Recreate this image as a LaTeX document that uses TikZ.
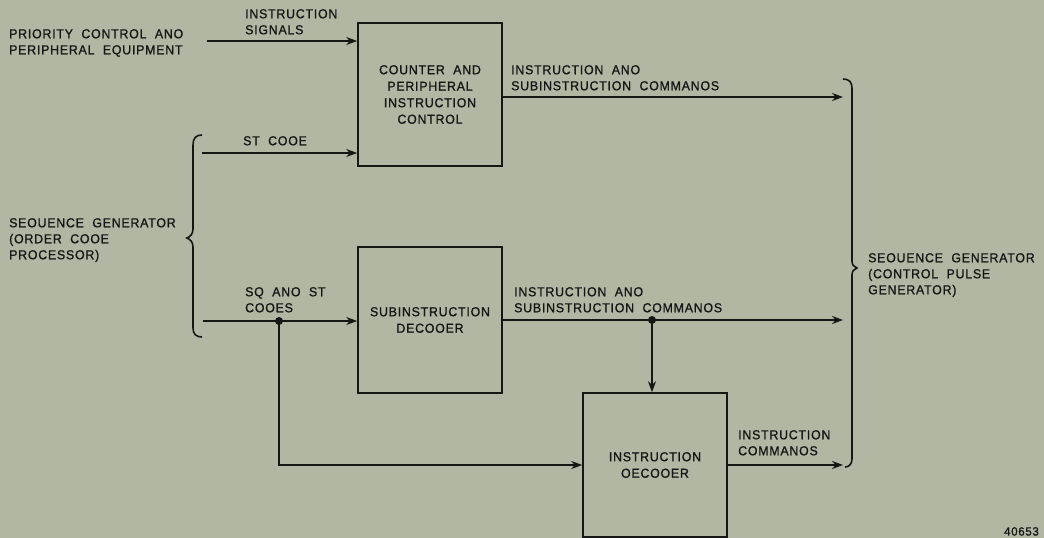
\documentclass[tikz,border=0pt]{standalone}
\usepackage{fontspec}
\setmainfont{Liberation Sans}[FakeStretch=0.95,LetterSpace=6,WordSpace=2,FakeBold=1]
\usetikzlibrary{arrows.meta}
\definecolor{bg}{RGB}{178,183,164}
\definecolor{ink}{RGB}{22,22,20}
\begin{document}
\begin{tikzpicture}[x=1pt,y=-1pt,
  ink/.style={draw=ink,line width=1.6pt},
  conn/.style={ink,-{Stealth[length=11pt,width=8pt]}},
  plain/.style={ink},
  blockbox/.style={ink,rectangle,minimum width=144pt,inner sep=0pt,align=center,text=ink,
     font=\fontsize{13}{16.5}\selectfont},
  lbl/.style={anchor=north west,inner sep=0pt,align=left,text=ink,
     font=\fontsize{13}{16}\selectfont},
  jdot/.style={circle,fill=ink,inner sep=0pt,minimum size=8pt},
]
\useasboundingbox (0,0) rectangle (1044,538);
\clip (0,0) rectangle (1044,538);
\fill[bg] (0,0) rectangle (1044,538);

% blocks
\node[blockbox,minimum height=143pt] (cnt) at (430,94.5) {COUNTER AND\\PERIPHERAL\\INSTRUCTION\\CONTROL};
\node[blockbox,minimum height=146pt] (sub) at (430,320) {SUBINSTRUCTION\\DECOOER};
\node[blockbox,minimum height=144pt] (dec) at (655,465) {INSTRUCTION\\OECOOER};

% labels
\node[lbl] (prio) at (9,29) {PRIORITY CONTROL ANO\\PERIPHERAL EQUIPMENT};
\node[lbl] (isig) at (245,9) {INSTRUCTION\\SIGNALS};
\node[lbl] (stc) at (243,136) {ST COOE};
\node[lbl] (seql) at (9,218) {SEOUENCE GENERATOR\\(ORDER COOE\\PROCESSOR)};
\node[lbl] (sqst) at (245,287) {SQ ANO ST\\COOES};
\node[lbl] (c1) at (511,65) {INSTRUCTION ANO\\SUBINSTRUCTION COMMANOS};
\node[lbl] (c2) at (514,287) {INSTRUCTION ANO\\SUBINSTRUCTION COMMANOS};
\node[lbl] (c3) at (738,430) {INSTRUCTION\\COMMANOS};
\node[lbl] (seqr) at (868,253) {SEOUENCE GENERATOR\\(CONTROL PULSE\\GENERATOR)};
\node[lbl,font=\fontsize{12}{14}\selectfont] (num) at (1004,527) {40653};

% coordinates for free ends
\coordinate (p1) at (207,41);
\coordinate (s1) at (202,153);
\coordinate (s2) at (203,321);
\coordinate (r1) at (843,97);
\coordinate (r2) at (843,320);
\coordinate (r3) at (843,465);
\node[jdot] (j1) at (279,321) {};
\node[jdot] (j2) at (652,320) {};

% connectors
\draw[conn] (p1) -- (p1 -| cnt.west);
\draw[conn] (s1) -- (s1 -| cnt.west);
\draw[conn] (r1 -| cnt.east) -- (r1);
\draw[conn] (s2) -- (s2 -| sub.west);
\draw[conn] (r2 -| sub.east) -- (r2);
\draw[conn] (j2.center) -- (j2 |- dec.north);
\draw[conn] (j1.center) |- (dec.west);
\draw[conn] (dec.east) -- (r3);

% braces
\draw[plain] (202,135) .. controls (196,135) and (193,138) .. (193,145) -- (193,229)
  .. controls (193,234) and (190,237) .. (187,238)
  .. controls (190,239) and (193,242) .. (193,247) -- (193,328)
  .. controls (193,334) and (196,337) .. (202,337);
\draw[plain] (843,79) .. controls (849,79) and (852,82) .. (852,88) -- (852,261)
  .. controls (852,265) and (854,267) .. (857,268)
  .. controls (854,269) and (852,271) .. (852,275) -- (852,459)
  .. controls (852,464) and (849,467) .. (845,467);
\end{tikzpicture}
\end{document}
